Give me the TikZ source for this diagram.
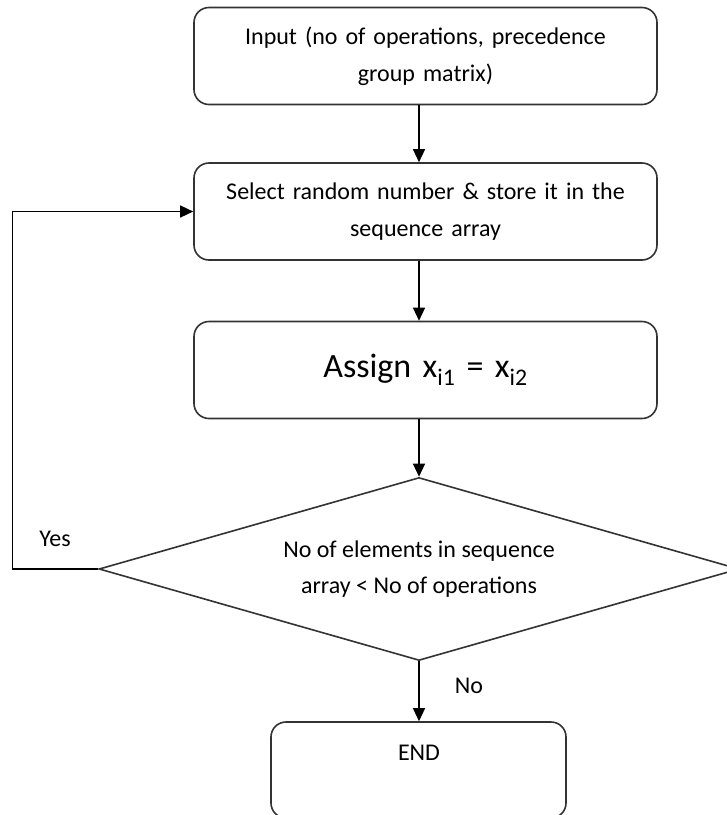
\documentclass[tikz,border=0pt]{standalone}
\usepackage{fontspec}
\setmainfont{Carlito}
\usetikzlibrary{shapes.geometric,arrows.meta}
\begin{document}
\begin{tikzpicture}[x=1pt, y=-1pt, >={Triangle[length=13pt,width=12pt]},
		procbox/.style={draw=black!80, line width=1.6pt, rounded corners=15pt, minimum width=463pt, minimum height=97pt, align=center, text width=440pt, font=\fontsize{24}{37}\selectfont},
		decision/.style={draw=black!80, line width=1.6pt, diamond, aspect=3.5, inner sep=0pt, minimum width=640pt, minimum height=183pt, align=center, font=\fontsize{24}{36}\selectfont},
		flow/.style={->, line width=1.3pt},
		lbl/.style={font=\fontsize{24}{30}\selectfont}]
	% bounding box and crop
	\useasboundingbox (0,0) rectangle (727,815);
	\clip (0,0) rectangle (727,815);
	
	% boxes
	\node[procbox] (input) at (425.5,56) {Input (no of operations, precedence\\group matrix)};
	\node[procbox] (select) at (425.5,211.5) {Select random number \& store it in the\\sequence array};
	\node[procbox, font=\fontsize{34}{40}\selectfont] (assign) at (425.5,370) {Assign x\textsubscript{i1} = x\textsubscript{i2}};
	\node[decision] (check) at (419,569) {No of elements in sequence\\array < No of operations};
	\node[procbox, minimum width=295pt, text width=280pt, minimum height=96pt, text depth=60pt] (finish) at (418.5,770) {};
	\node[lbl] (endtxt) at (419,753) {END};
	
	% labels
	\node[lbl] (yeslabel) at (55,539) {Yes};
	\node[lbl] (nolabel) at (469,686) {No};
	
	% connectors
	\draw[flow] (input.south -| check.north) -- (select.north -| check.north);
	\draw[flow] (select.south -| check.north) -- (assign.north -| check.north);
	\draw[flow] (assign.south -| check.north) -- (check.north);
	\draw[flow] (check.south) -- (finish.north -| check.south);
	\draw[flow] (check.west) -- ++(-86,0) |- (select.west);
\end{tikzpicture}
\end{document}
